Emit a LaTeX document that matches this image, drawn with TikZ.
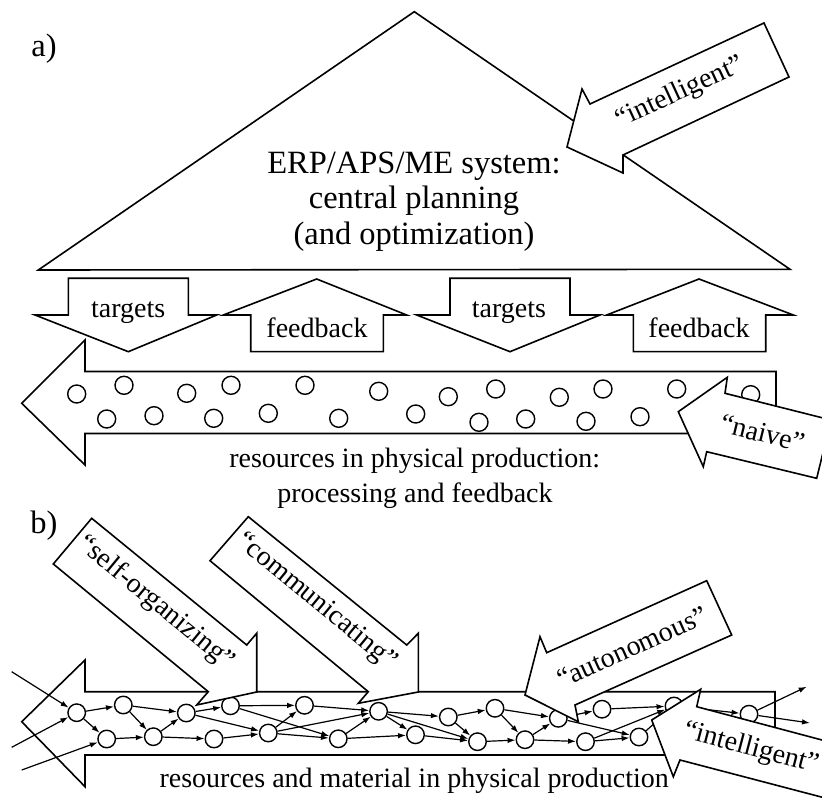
\documentclass[tikz,border=0pt]{standalone}
\usepackage{fontspec}
\setmainfont{Liberation Serif}
\usetikzlibrary{arrows.meta}
\begin{document}
\begin{tikzpicture}[x=1pt,y=-1pt,
  blkarrow/.style={draw=black, line width=1.6pt, line join=miter, fill=white},
  txt/.style={font=\fontsize{28}{34}\selectfont, inner sep=0pt},
  bigtxt/.style={font=\fontsize{32.5}{36}\selectfont, inner sep=0pt},
  adot/.style={circle, draw, line width=1.4pt, fill=white, minimum size=18pt, inner sep=0pt},
  bnode/.style={circle, draw, line width=1.4pt, fill=white, minimum size=17.5pt, inner sep=0pt},
  flowarrow/.style={line width=1.2pt, -{Latex[length=8pt,width=5.5pt]}}
]
\useasboundingbox (0,0) rectangle (822,799);
\clip (0,0) rectangle (822,799);

% ---------------- part a ----------------
\node[bigtxt, anchor=base] (la) at (44,56.5) {a)};
\draw[blkarrow] (38.3,270) -- (414.3,11.7) -- (790,269.3) -- cycle;
\node[bigtxt, anchor=base] (erp1) at (414,173.3) {ERP/APS/ME system:};
\node[bigtxt, anchor=base] (erp2) at (414,209) {central planning};
\node[bigtxt, anchor=base] (erp3) at (414,245) {(and optimization)};

% targets / feedback arrows
\draw[blkarrow] (68.3,278.3) -- (188.3,278.3) -- (188.3,315) -- (216.7,315) -- (128.3,351.7) -- (35,315) -- (68.3,315) -- cycle;
\draw[blkarrow] (250.7,351.7) -- (383.3,351.7) -- (383.3,315) -- (406.7,315) -- (316.7,279) -- (223.3,315) -- (250.7,315) -- cycle;
\draw[blkarrow] (450,278.3) -- (570,278.3) -- (570,315) -- (600,315) -- (510,351.7) -- (416.7,315) -- (450,315) -- cycle;
\draw[blkarrow] (633.3,351.7) -- (765.7,351.7) -- (765.7,315) -- (793.3,315) -- (699,279) -- (606.7,315) -- (633.3,315) -- cycle;
\node[txt, anchor=base] (t1) at (128.2,317.3) {targets};
\node[txt, anchor=base] (f1) at (317,337.3) {feedback};
\node[txt, anchor=base] (t2) at (509,317.3) {targets};
\node[txt, anchor=base] (f2) at (699,337.3) {feedback};

% big production arrow a
\draw[blkarrow] (21.7,403.3) -- (85,340) -- (85,371.5) -- (776,371.5) -- (776,433.5) -- (85,433.5) -- (85,465) -- cycle;
\foreach \px/\py [count=\i] in {76.7/394,124/385.3,186.7/393.3,231/385.3,305/385.3,378.7/391.3,448.3/396.7,495.7/389,559.3/397.3,603/389,676.7/389,750.7/394.7,106.7/419,154/415.7,213.7/418.3,268.3/413.3,338.7/418.3,415.7/414,479/422.3,525.7/419,586/421.3,640/416.7}
  \node[adot] (c\i) at (\px,\py) {};
\node[txt, anchor=base] (res1) at (414.7,467.3) {resources in physical production:};
\node[txt, anchor=base] (res2) at (415,502.7) {processing and feedback};

% naive arrow
\draw[blkarrow] (678.3,411.7) -- (727.3,377.3) -- (725,393.3) -- (831,420) -- (816.7,478.3) -- (706.7,451.7) -- (703.3,466.7) -- cycle;
\node[txt, rotate=-13.8] (naive) at (762.5,433) {“naive”};

% intelligent arrow (top)
\draw[blkarrow] (567,147) -- (582,89) -- (590,104) -- (764,23) -- (789,77) -- (623,155) -- (623,173) -- cycle;
\node[txt, rotate=24.8] (intA) at (680,93) {“intelligent”};

% ---------------- part b ----------------
\node[bigtxt, anchor=base] (lb) at (44,533.3) {b)};
\draw[blkarrow] (21.7,721.7) -- (85,660) -- (85,691.7) -- (775,691.7) -- (775,755) -- (85,755) -- (85,786.7) -- cycle;
\node[txt, anchor=base] (res3) at (414.2,787.7) {resources and material in physical production};

% network
\foreach \nm/\px/\py in {n1/76.7/712.7, n2/106.7/739, n3/123.3/705, n4/153.3/736.7, n5/186.3/713, n6/214/739, n7/230.5/705.8, n8/268.3/733, n9/304.5/705.3, n10/338.3/738.8, n11/378.6/711.3, n12/415.5/734.8, n13/448.3/717, n14/477.5/741.7, n15/495/708.3, n16/525/739.7, n17/558.3/718.3, n18/585.5/741.7, n19/602/709.2, n20/639/737, n21/674/706, n22/749/714.2}
  \node[bnode] (\nm) at (\px,\py) {};
\coordinate (in1) at (11.7,671.7);
\coordinate (in2) at (11.7,747.3);
\coordinate (in3) at (21.7,770);
\coordinate (out1) at (806.7,686.7);
\coordinate (out2) at (810,723);
\foreach \s/\t in {in1/n1, in2/n1, in3/n2, n1/n3, n1/n2, n3/n5, n3/n4, n2/n4, n4/n5, n4/n6, n5/n7, n5/n8, n6/n8, n7/n9, n7/n10, n8/n9, n8/n11, n8/n10, n9/n11, n10/n11, n10/n12, n11/n13, n11/n12, n11/n14, n12/n14, n13/n14, n13/n15, n14/n16, n15/n16, n15/n17, n16/n17, n16/n18, n17/n19, n17/n20, n18/n20, n18/n21, n19/n21, n20/n21, n21/n22, n22/out1, n22/out2}
  \draw[flowarrow] (\s) -- (\t);

% callout arrows b
\draw[blkarrow] (91.7,518.3) -- (246.7,645) -- (256.7,633.3) -- (256.7,692) -- (196.7,705) -- (208.3,691.7) -- (53.3,564) -- cycle;
\node[txt, rotate=-39.5] (selforg) at (156,603) {“self-organizing”};
\draw[blkarrow] (248.3,516.7) -- (406.7,645) -- (418.3,633.3) -- (418.3,692) -- (358.3,703.3) -- (368.3,691.7) -- (210,560.7) -- cycle;
\node[txt, rotate=-39.5] (comm) at (316,602) {“communicating”};
\draw[blkarrow] (706.7,580.7) -- (546.7,652.7) -- (540,636.7) -- (525,695) -- (578.3,721.7) -- (575,705) -- (731.7,635) -- cycle;
\node[txt, rotate=24.2] (auto) at (632,647) {“autonomous”};
\draw[blkarrow] (651.7,720) -- (700.7,689.3) -- (696.7,706.7) -- (840,744.8) -- (840,801.9) -- (680,760) -- (673.3,776.7) -- cycle;
\node[txt, rotate=-14.8] (intB) at (751,749) {“intelligent”};
\end{tikzpicture}
\end{document}
